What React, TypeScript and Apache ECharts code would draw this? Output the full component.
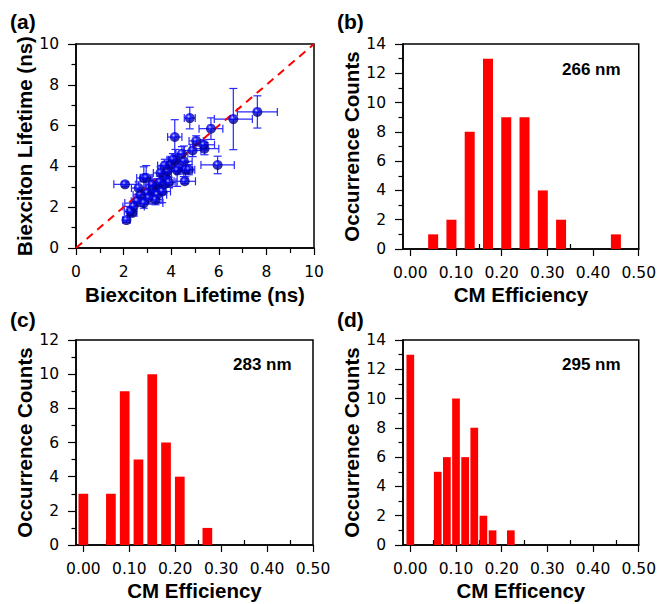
import React, { useEffect, useRef } from "react";
import * as echarts from "echarts";

// Panel (a): biexciton lifetimes (ns) with error bars
const lifetimeX = [7.62, 6.61, 5.67, 4.78, 4.15, 5.95, 4.57, 2.06, 2.12, 2.36, 5.40, 5.37, 5.05, 4.90, 4.53, 4.32, 4.60, 3.76, 3.97, 4.18, 2.85, 3.41, 3.69, 3.20, 2.99, 2.70, 2.57, 2.42, 2.28, 3.41, 3.62, 3.05, 2.85, 3.34, 2.63, 3.55, 3.83, 4.45, 4.07, 3.52, 3.20, 2.95, 3.73, 4.25, 4.74, 3.90];
const lifetimeY = [6.67, 6.32, 5.85, 6.37, 5.44, 4.07, 3.27, 3.12, 1.37, 1.72, 4.87, 5.06, 5.25, 4.78, 4.25, 3.92, 3.84, 3.51, 4.08, 4.33, 3.43, 3.10, 3.10, 2.86, 2.70, 2.61, 2.29, 2.04, 1.79, 2.61, 2.77, 2.45, 2.20, 2.37, 2.94, 3.68, 3.76, 4.62, 4.33, 3.22, 3.10, 3.44, 4.05, 3.80, 3.84, 3.22];
const lifetimeErrX = [0.84, 0.80, 0.50, 0.23, 0.30, 0.70, 0.45, 0.47, 0.15, 0.20, 0.60, 0.45, 0.30, 0.35, 0.35, 0.30, 0.30, 0.25, 0.30, 0.30, 0.30, 0.35, 0.35, 0.30, 0.25, 0.30, 0.25, 0.45, 0.25, 0.40, 0.35, 0.30, 0.80, 0.30, 0.30, 0.30, 0.35, 0.25, 0.25, 0.40, 0.30, 0.25, 0.30, 0.30, 0.25, 0.30];
const lifetimeErrY = [0.79, 1.50, 0.53, 0.53, 0.85, 0.43, 0.12, 0.12, 0.12, 0.15, 0.30, 0.25, 0.25, 0.30, 0.75, 0.30, 0.35, 0.30, 0.35, 0.50, 0.55, 0.30, 0.40, 0.30, 0.25, 0.25, 0.25, 0.25, 0.20, 0.35, 0.55, 0.30, 0.25, 0.25, 0.30, 0.30, 0.30, 0.35, 0.30, 0.30, 0.25, 0.60, 0.30, 0.78, 0.25, 0.25];
const diagonal = [0, 10];
const lifetimeTicks = [0, 2, 4, 6, 8, 10];

// Panels (b)-(d): CM efficiency histograms
const effLabels = [0, 0.1, 0.2, 0.3, 0.4, 0.5];
const effMinor = [0.05, 0.15, 0.25, 0.35, 0.45];
const eff266 = [0.05, 0.09, 0.13, 0.17, 0.21, 0.25, 0.29, 0.33, 0.45];
const counts266 = [1, 2, 8, 13, 9, 9, 4, 2, 1];
const eff283 = [0, 0.06, 0.09, 0.12, 0.15, 0.18, 0.21, 0.27];
const counts283 = [3, 3, 9, 5, 10, 6, 4, 1];
const eff295 = [0, 0.06, 0.08, 0.1, 0.12, 0.14, 0.16, 0.18, 0.22];
const counts295 = [13, 5, 6, 10, 6, 8, 2, 1, 1];

const TICK_FONT = "DejaVu Sans";
const TITLE_FONT = "'Liberation Sans', Arial, sans-serif";

export default function App() {
  const ref = useRef<HTMLDivElement>(null);
  useEffect(() => {
    if (!ref.current) return;
    const chart = echarts.init(ref.current, null, { renderer: "svg" });

    const grids = [
      { left: 76, top: 44, width: 238, height: 204 },
      { left: 403, top: 44, width: 239, height: 205 },
      { left: 76, top: 340, width: 237, height: 205 },
      { left: 403, top: 340, width: 239, height: 205 },
    ].map((g) => ({ ...g, show: true, borderColor: "#000", borderWidth: 1.5, backgroundColor: "transparent" }));

    const axisLine = { show: true, onZero: false, lineStyle: { color: "#000", width: 1.5 } };
    const tickLabel = { color: "#000", fontSize: 15.5, fontFamily: TICK_FONT };
    const nameStyle = { color: "#000", fontSize: 20.5, fontWeight: "bold" as const, fontFamily: TITLE_FONT };

    const effXAxis = (gridIndex: number, name: string) => ({
      type: "value",
      gridIndex,
      min: -0.016,
      max: 0.5,
      name,
      nameLocation: "middle",
      nameGap: 35,
      nameTextStyle: nameStyle,
      axisLine,
      axisTick: { show: true, length: 7, lineStyle: { color: "#000", width: 1.2 }, customValues: effLabels },
      axisLabel: { ...tickLabel, margin: 16, customValues: effLabels, formatter: (v: number) => v.toFixed(2) },
      splitLine: { show: false },
    });
    const effMinorAxis = (gridIndex: number) => ({
      type: "value",
      gridIndex,
      min: -0.016,
      max: 0.5,
      axisLine: { show: false },
      axisTick: { show: true, length: 5, lineStyle: { color: "#000", width: 1.2 }, customValues: effMinor },
      axisLabel: { show: false },
      splitLine: { show: false },
    });
    const countYAxis = (gridIndex: number, max: number) => ({
      type: "value",
      gridIndex,
      min: 0,
      max,
      interval: 2,
      name: "Occurrence Counts",
      nameLocation: "middle",
      nameGap: 39,
      nameTextStyle: nameStyle,
      axisLine,
      axisTick: { show: true, length: 8, lineStyle: { color: "#000", width: 1.2 } },
      minorTick: { show: true, splitNumber: 2, length: 4.5, lineStyle: { color: "#000", width: 1.2 } },
      axisLabel: { ...tickLabel, margin: 17 },
      splitLine: { show: false },
      minorSplitLine: { show: false },
    });
    const lifeAxis = (isX: boolean) => ({
      type: "value",
      gridIndex: 0,
      min: lifetimeTicks[0],
      max: lifetimeTicks[lifetimeTicks.length - 1],
      interval: 2,
      name: "Biexciton Lifetime (ns)",
      nameLocation: "middle",
      nameGap: isX ? 36 : 39,
      nameTextStyle: nameStyle,
      axisLine,
      axisTick: { show: true, length: isX ? 7 : 8, lineStyle: { color: "#000", width: 1.2 } },
      minorTick: { show: true, splitNumber: 2, length: isX ? 5 : 4.5, lineStyle: { color: "#000", width: 1.2 } },
      axisLabel: { ...tickLabel, margin: isX ? 16 : 17 },
      splitLine: { show: false },
      minorSplitLine: { show: false },
    });

    const errData = lifetimeX.map((x, i) => [x, lifetimeY[i], lifetimeErrX[i], lifetimeErrY[i]]);

    const bar = (xAxisIndex: number, xs: number[], ys: number[], width: number) => ({
      type: "bar",
      xAxisIndex,
      yAxisIndex: xAxisIndex,
      data: xs.map((x, i) => [x, ys[i]]),
      barWidth: width,
      itemStyle: { color: "#ff0000" },
      silent: true,
    });

    const label = (text: string, x: number, y: number) => ({
      type: "text",
      left: x,
      top: y,
      style: { text, fill: "#000", font: `bold 21px ${TITLE_FONT}` },
    });
    const wl = (text: string, x: number, y: number) => ({
      type: "text",
      x,
      y,
      style: { text, fill: "#000", font: `bold 17px ${TITLE_FONT}`, textVerticalAlign: "middle", verticalAlign: "middle" },
    });

    chart.setOption({
      animation: false,
      backgroundColor: "#fff",
      grid: grids,
      xAxis: [
        lifeAxis(true),
        effXAxis(1, "CM Efficiency"),
        effXAxis(2, "CM Efficiency"),
        effXAxis(3, "CM Efficency"),
        effMinorAxis(1),
        effMinorAxis(2),
        effMinorAxis(3),
      ],
      yAxis: [lifeAxis(false), countYAxis(1, 14), countYAxis(2, 12), countYAxis(3, 14)],
      series: [
        {
          type: "custom",
          xAxisIndex: 0,
          yAxisIndex: 0,
          data: errData,
          encode: { x: 0, y: 1 },
          silent: true,
          z: 1,
          renderItem: (_p: any, api: any) => {
            const x = api.value(0), y = api.value(1), ex = api.value(2), ey = api.value(3);
            const l = api.coord([x - ex, y]);
            const r = api.coord([x + ex, y]);
            const t = api.coord([x, y + ey]);
            const b = api.coord([x, y - ey]);
            const cap = 4;
            const style = { stroke: "#2828ff", lineWidth: 1.2 };
            return {
              type: "group",
              children: [
                { type: "line", shape: { x1: l[0], y1: l[1], x2: r[0], y2: r[1] }, style },
                { type: "line", shape: { x1: l[0], y1: l[1] - cap, x2: l[0], y2: l[1] + cap }, style },
                { type: "line", shape: { x1: r[0], y1: r[1] - cap, x2: r[0], y2: r[1] + cap }, style },
                { type: "line", shape: { x1: t[0], y1: t[1], x2: b[0], y2: b[1] }, style },
                { type: "line", shape: { x1: t[0] - cap, y1: t[1], x2: t[0] + cap, y2: t[1] }, style },
                { type: "line", shape: { x1: b[0] - cap, y1: b[1], x2: b[0] + cap, y2: b[1] }, style },
              ],
            };
          },
        },
        {
          type: "line",
          xAxisIndex: 0,
          yAxisIndex: 0,
          data: diagonal.map((v) => [v, v]),
          symbol: "none",
          silent: true,
          z: 2,
          lineStyle: { color: "#ff0000", width: 2, type: [8, 6] },
        },
        {
          type: "scatter",
          xAxisIndex: 0,
          yAxisIndex: 0,
          data: errData.map((d) => [d[0], d[1]]),
          symbol: "circle",
          symbolSize: 10,
          silent: true,
          z: 3,
          itemStyle: {
            color: {
              type: "radial",
              x: 0.4,
              y: 0.35,
              r: 0.65,
              colorStops: [
                { offset: 0, color: "#c8c8ff" },
                { offset: 0.3, color: "#0000ff" },
                { offset: 1, color: "#000070" },
              ],
            },
          },
        },
        bar(1, eff266, counts266, 10),
        bar(2, eff283, counts283, 9.7),
        bar(3, eff295, counts295, 7.7),
      ],
      graphic: [
        label("(a)", 10, 11),
        label("(b)", 337, 11),
        label("(c)", 10, 309),
        label("(d)", 337, 309),
        wl("266 nm", 562, 69),
        wl("283 nm", 233, 364),
        wl("295 nm", 562, 364),
      ],
    });
    return () => chart.dispose();
  }, []);

  return <div ref={ref} style={{ position: "absolute", left: 0, top: 0, width: 659, height: 604 }} />;
}
